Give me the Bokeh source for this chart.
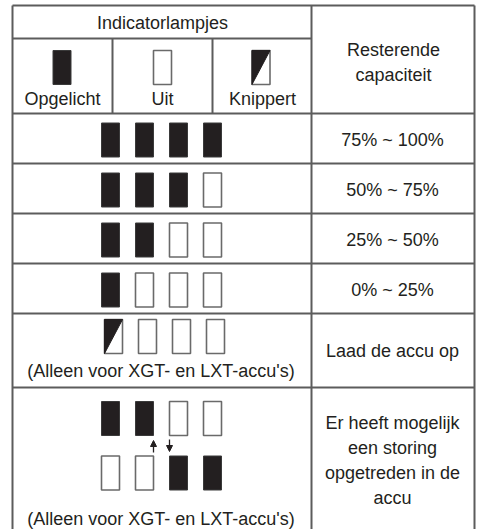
from bokeh.plotting import figure
from bokeh.models import Range1d, Arrow, NormalHead
from bokeh.core.properties import value
from bokeh.embed import file_html
from bokeh.resources import INLINE

# ---- data ----
header_title = "Indicatorlampjes"
legend_labels = ["Opgelicht", "Uit", "Knippert"]
legend_states = [1, 0, 2]          # 1 = on, 0 = off, 2 = blinking
capacity_header = ["Resterende", "capaciteit"]
level_states = [[1, 1, 1, 1], [1, 1, 1, 0], [1, 1, 0, 0], [1, 0, 0, 0]]
level_labels = ["75% ~ 100%", "50% ~ 75%", "25% ~ 50%", "0% ~ 25%"]
charge_states = [2, 0, 0, 0]
charge_label = "Laad de accu op"
note_label = "(Alleen voor XGT- en LXT-accu's)"
fault_states_top = [1, 1, 0, 0]
fault_states_bottom = [0, 0, 1, 1]
fault_label = ["Er heeft mogelijk", "een storing", "opgetreden in de", "accu"]

# ---- layout (picture pixels) ----
X_L, X_S1, X_S2, X_C, X_R = 12, 112, 212, 311, 474
Y_TOP = 5
Y_H1 = 38
Y_H2 = 113
ROW_H = 50
Y_FAULT = 387
Y_BOT = 533

BORDER = "#5c5c5c"
INK = "#231f20"
FONT = value("Liberation Sans")
FS = "18px"

W, H = 477, 529
p = figure(width=W, height=H, x_range=Range1d(0, W), y_range=Range1d(H, 0),
           output_backend="svg", toolbar_location=None, min_border=0,
           background_fill_color="white", border_fill_color="white")
p.axis.visible = False
p.grid.visible = False
p.outline_line_color = None

# ---- table lines ----
hx0, hx1, hy = [], [], []
for y, x0, x1 in [(Y_TOP, X_L, X_R), (Y_H1, X_L, X_C), (Y_H2, X_L, X_R)] + \
        [(Y_H2 + ROW_H * (i + 1), X_L, X_R) for i in range(len(level_states))] + \
        [(Y_FAULT, X_L, X_R), (Y_BOT, X_L, X_R)]:
    hx0.append(x0); hx1.append(x1); hy.append(y)
p.segment(x0=hx0, x1=hx1, y0=hy, y1=hy, line_color=BORDER, line_width=2)
segs_v = [(X_L, Y_TOP, Y_BOT), (X_R, Y_TOP, Y_BOT), (X_C, Y_TOP, Y_BOT),
          (X_S1, Y_H1, Y_H2), (X_S2, Y_H1, Y_H2)]
p.segment(x0=[s[0] for s in segs_v], x1=[s[0] for s in segs_v],
          y0=[s[1] for s in segs_v], y1=[s[2] for s in segs_v],
          line_color=BORDER, line_width=2)

# ---- lamps ----
lamps = []  # (cx, cy, state)
LW, LH = 18, 34
for cx, st in zip([61.5, 162, 260.5], legend_states):
    lamps.append((cx, 67, st))
for r, states in enumerate(level_states):
    cy = Y_H2 + ROW_H * r + ROW_H / 2 + 1.5
    for i, st in enumerate(states):
        lamps.append((110 + 34 * i, cy, st))
for i, st in enumerate(charge_states):
    lamps.append((113 + 34 * i, 336, st))
for i, st in enumerate(fault_states_top):
    lamps.append((110 + 34 * i, 418, st))
for i, st in enumerate(fault_states_bottom):
    lamps.append((110 + 34 * i, 472.5, st))

on = [l for l in lamps if l[2] == 1]
off = [l for l in lamps if l[2] != 1]
blink = [l for l in lamps if l[2] == 2]

p.quad(left=[l[0] - LW / 2 for l in off], right=[l[0] + LW / 2 for l in off],
       top=[l[1] - LH / 2 for l in off], bottom=[l[1] + LH / 2 for l in off],
       fill_color="white", line_color="#6a6a6a", line_width=1.6)
p.patches(xs=[[l[0] - LW / 2, l[0] + LW / 2, l[0] - LW / 2] for l in blink],
          ys=[[l[1] - LH / 2, l[1] - LH / 2, l[1] + LH / 2] for l in blink],
          fill_color=INK, line_color=INK, line_width=1)
p.quad(left=[l[0] - LW / 2 for l in on], right=[l[0] + LW / 2 for l in on],
       top=[l[1] - LH / 2 for l in on], bottom=[l[1] + LH / 2 for l in on],
       fill_color=INK, line_color="#3a3a3a", line_width=1)

# ---- arrows ----
p.add_layout(Arrow(end=NormalHead(size=6, fill_color=INK, line_color=INK),
                   x_start=153, y_start=452, x_end=153, y_end=440,
                   line_color=INK, line_width=1.3))
p.add_layout(Arrow(end=NormalHead(size=6, fill_color=INK, line_color=INK),
                   x_start=169, y_start=439, x_end=169, y_end=451,
                   line_color=INK, line_width=1.3))

# ---- texts ----
tx, ty, tt = [], [], []
def add(x, y, t):
    tx.append(x); ty.append(y); tt.append(t)

add(162, 22, header_title)
for x, t in zip([62, 162, 262], legend_labels):
    add(x, 98, t)
add(393, 49, capacity_header[0])
add(393, 74, capacity_header[1])
for r, t in enumerate(level_labels):
    add(392, Y_H2 + ROW_H * r + ROW_H / 2 + 1.5, t)
add(392, 350, charge_label)
add(160.5, 370, note_label)
add(160.5, 518, note_label)
for k, t in enumerate(fault_label):
    add(392, 422 + 25 * k, t)

p.text(x=tx, y=ty, text=tt, text_font=FONT, text_font_size=FS,
       text_color=INK, text_align="center", text_baseline="middle")

open("out.html", "w").write(file_html(p, INLINE))
